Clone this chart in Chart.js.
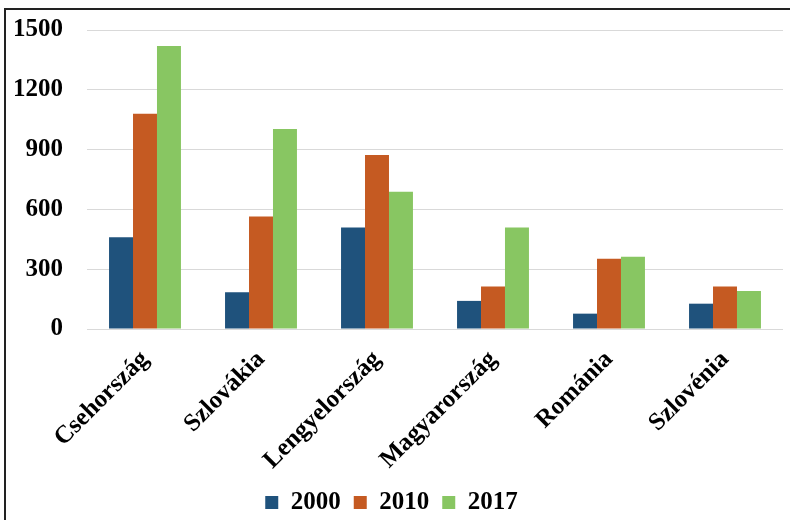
<!DOCTYPE html>
<html>
<head>
<meta charset="utf-8">
<script src="https://cdn.jsdelivr.net/npm/chart.js@4"></script>
<style>
body { margin: 0; background: #fff; overflow: hidden; }
#wrap { position: relative; width: 790px; height: 520px; overflow: hidden; }
#frame { position: absolute; left: 4px; top: 8px; width: 900px; height: 700px; border: 2px solid #222; }
canvas { position: absolute; left: 0; top: -9px; }
</style>
</head>
<body>
<div id="wrap">
<div id="frame"></div>
<canvas id="chart" width="790" height="534"></canvas>
</div>
<script>
const countries = ['Csehország', 'Szlovákia', 'Lengyelország', 'Magyarország', 'Románia', 'Szlovénia'];
const years = ['2000', '2010', '2017'];
const v2000 = [460, 184, 509, 141, 77, 127];
const v2010 = [1080, 564, 873, 213, 353, 213];
const v2017 = [1420, 1003, 688, 509, 362, 191];
const yTicks = [0, 300, 600, 900, 1200, 1500];
const colors = ['#1f527c', '#c55a22', '#88c662'];

const font = "'Liberation Serif', 'Times New Roman', serif";

const ctx = document.getElementById('chart');

new Chart(ctx, {
	type: 'bar',
	data: {
		labels: countries,
		datasets: [v2000, v2010, v2017].map((d, i) => ({
			label: years[i],
			data: d,
			backgroundColor: colors[i],
			borderWidth: 0
		}))
	},
	options: {
		responsive: false,
		animation: false,
		datasets: {
			bar: { categoryPercentage: 0.62, barPercentage: 1 }
		},
		layout: { padding: { top: 1, right: 7, left: 0, bottom: 0 } },
		plugins: {
			tooltip: { enabled: false },
			legend: {
				position: 'bottom',
				labels: {
					boxWidth: 13,
					boxHeight: 13,
					padding: 13,
					color: '#000',
					font: { family: font, size: 25, weight: 'bold' }
				}
			}
		},
		scales: {
			x: {
				grid: { display: false },
				border: { display: false },
				afterFit: (scale) => { scale.height = 148; },
				ticks: {
					minRotation: 45,
					maxRotation: 45,
					color: '#000',
					padding: 8,
					font: { family: font, size: 25, weight: 'bold' }
				}
			},
			y: {
				min: 0,
				max: 1500,
				afterBuildTicks: (scale) => { scale.ticks = yTicks.map(v => ({ value: v })); },
				afterFit: (scale) => { scale.width = 87; },
				grid: { color: '#d9d9d9', lineWidth: 1, drawTicks: false },
				border: { display: false },
				ticks: {
					color: '#000',
					padding: 24,
					callback: (v) => String(v),
					font: { family: font, size: 25, weight: 'bold' }
				}
			}
		}
	}
});
</script>
</body>
</html>
